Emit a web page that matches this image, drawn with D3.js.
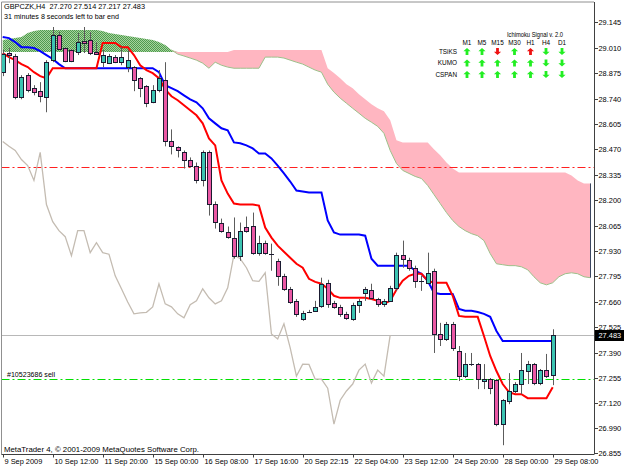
<!DOCTYPE html>
<html><head><meta charset="utf-8">
<script src="https://cdn.jsdelivr.net/npm/d3@7"></script>
<style>
body{margin:0;background:#fff}
svg{display:block}
text{font-family:"Liberation Sans",Arial,sans-serif;white-space:pre}
</style>
</head><body>
<svg id="c" width="625" height="469"></svg>
<script>
// ---------------- DATA ----------------
const symbolTitle = "GBPCZK,H4  27.270 27.514 27.217 27.483";
const timerText = "31 minutes 8 seconds left to bar end";
const copyright = "MetaTrader 4, \u00A9 2001-2009 MetaQuotes Software Corp.";
const orderLabel = "#10523686 sell";

const timeLabels = ["9 Sep 2009","10 Sep 12:00","11 Sep 20:00","15 Sep 00:00","16 Sep 08:00","17 Sep 16:00","20 Sep 22:15","22 Sep 04:00","23 Sep 12:00","24 Sep 20:00","28 Sep 00:00","29 Sep 08:00"];
const priceLabels = ["29.145","29.010","28.875","28.740","28.605","28.470","28.335","28.200","28.065","27.930","27.795","27.660","27.525","27.390","27.255","27.120","26.990","26.855"];

const open = [
 28.880,28.982,28.966,28.747,28.864,28.795,28.779,28.747,28.944,29.077,
 29.008,28.998,28.987,29.045,29.051,28.987,28.933,28.928,28.960,28.933,
 28.907,28.907,28.848,28.806,28.720,28.784,28.838,28.512,28.480,28.454,
 28.416,28.379,28.305,28.454,28.182,28.076,28.033,28.001,27.905,28.060,
 28.065,27.921,27.974,27.916,27.878,27.798,27.729,27.665,27.569,27.607,
 27.612,27.639,27.761,27.655,27.633,27.596,27.569,27.644,27.708,27.724,
 27.675,27.649,27.665,27.734,27.910,27.884,27.841,27.772,27.761,27.825,
 27.489,27.462,27.543,27.399,27.265,27.329,27.329,27.239,27.249,27.244,
 27.010,27.132,27.186,27.223,27.292,27.329,27.228,27.297,27.270];
const high = [
 28.998,29.008,28.977,28.864,28.875,28.811,28.827,28.944,29.120,29.093,
 29.013,29.003,29.088,29.120,29.093,29.040,28.998,28.977,28.971,29.013,
 28.998,28.912,28.854,28.811,28.811,28.891,28.933,28.576,28.486,28.464,
 28.427,28.400,28.464,28.464,28.193,28.102,28.060,28.108,28.081,28.113,
 28.134,28.011,27.985,27.969,27.889,27.809,27.739,27.675,27.612,27.617,
 27.665,27.788,27.777,27.665,27.644,27.607,27.655,27.675,27.739,27.756,
 27.681,27.675,27.745,27.921,27.985,27.894,27.852,27.798,27.921,27.836,
 27.548,27.553,27.553,27.425,27.388,27.388,27.335,27.329,27.255,27.249,
 27.143,27.281,27.233,27.388,27.346,27.335,27.303,27.383,27.514];
const low = [
 28.859,28.928,28.736,28.736,28.773,28.757,28.720,28.667,28.933,28.998,
 28.933,28.933,28.971,28.982,28.971,28.971,28.907,28.923,28.928,28.917,
 28.880,28.779,28.747,28.694,28.715,28.773,28.486,28.443,28.427,28.368,
 28.374,28.289,28.273,28.118,28.049,28.027,27.995,27.889,27.878,28.027,
 27.910,27.905,27.910,27.825,27.745,27.718,27.649,27.580,27.559,27.601,
 27.607,27.628,27.628,27.623,27.580,27.564,27.559,27.601,27.665,27.671,
 27.633,27.633,27.659,27.718,27.841,27.825,27.734,27.718,27.756,27.388,
 27.425,27.452,27.399,27.239,27.255,27.319,27.196,27.196,27.169,26.999,
 26.898,27.116,27.175,27.169,27.223,27.217,27.217,27.255,27.217];
const close = [
 28.977,28.971,28.747,28.854,28.784,28.773,28.752,28.933,29.077,29.003,
 28.939,28.939,29.040,29.035,28.982,28.979,28.971,28.966,28.933,28.960,
 28.944,28.838,28.795,28.715,28.784,28.848,28.512,28.486,28.464,28.416,
 28.384,28.305,28.454,28.177,28.086,28.038,28.006,27.905,28.038,28.038,
 27.921,27.974,27.921,27.913,27.798,27.729,27.659,27.596,27.601,27.604,
 27.633,27.756,27.649,27.633,27.596,27.575,27.644,27.665,27.729,27.681,
 27.649,27.665,27.734,27.910,27.889,27.841,27.772,27.769,27.814,27.489,
 27.462,27.543,27.415,27.265,27.329,27.327,27.249,27.249,27.201,27.010,
 27.137,27.186,27.223,27.297,27.329,27.228,27.297,27.265,27.483];

const tenkan = [
 28.982,28.960,28.944,28.923,28.907,28.880,28.859,28.848,28.901,28.901,
 28.901,28.901,28.901,28.901,28.901,28.901,29.035,29.035,29.035,29.013,
 29.013,28.971,28.917,28.891,28.875,28.848,28.789,28.752,28.731,28.704,
 28.678,28.651,28.608,28.528,28.491,28.305,28.235,28.182,28.177,28.177,
 28.177,28.171,28.054,28.001,27.958,27.926,27.894,27.862,27.841,27.782,
 27.766,27.756,27.729,27.692,27.681,27.681,27.681,27.681,27.681,27.675,
 27.665,27.649,27.665,27.724,27.772,27.798,27.809,27.809,27.772,27.761,
 27.761,27.761,27.692,27.585,27.580,27.580,27.580,27.478,27.372,27.292,
 27.223,27.180,27.169,27.169,27.148,27.148,27.148,27.148,27.206];
const kijun = [
 29.067,29.061,29.040,29.013,29.013,29.008,28.992,28.971,28.950,28.923,
 28.901,28.901,28.901,28.901,28.901,28.901,28.901,28.901,28.901,28.901,
 28.901,28.901,28.901,28.901,28.901,28.880,28.811,28.795,28.779,28.757,
 28.736,28.720,28.688,28.635,28.608,28.582,28.571,28.507,28.502,28.491,
 28.475,28.448,28.448,28.422,28.384,28.342,28.299,28.251,28.246,28.241,
 28.241,28.241,28.092,28.028,28.017,28.017,28.017,28.017,28.011,27.889,
 27.852,27.852,27.852,27.852,27.852,27.852,27.825,27.809,27.772,27.708,
 27.702,27.702,27.702,27.622,27.612,27.612,27.606,27.596,27.580,27.505,
 27.452,27.452,27.452,27.452,27.452,27.452,27.452,27.452,27.452];
const spanA = [
 29.051,29.056,29.061,29.067,29.088,29.099,29.104,29.104,29.104,29.104,
 29.104,29.104,29.104,29.104,29.104,29.104,29.099,29.088,29.083,29.077,
 29.072,29.067,29.061,29.056,29.051,29.040,29.024,28.998,28.976,28.966,
 28.955,28.944,28.928,28.901,28.933,28.917,28.907,28.901,28.901,28.901,
 28.901,28.901,28.960,28.960,28.960,28.955,28.944,28.933,28.923,28.907,
 28.891,28.880,28.816,28.774,28.742,28.715,28.688,28.662,28.635,28.614,
 28.592,28.555,28.464,28.395,28.358,28.342,28.326,28.315,28.278,28.230,
 28.182,28.134,28.092,28.060,28.038,28.022,28.011,27.985,27.916,27.862,
 27.857,27.852,27.852,27.846,27.830,27.793,27.761,27.750,27.761,27.793,
 27.809,27.814,27.809,27.793,27.788];
const spanB = [
 28.987,28.987,28.987,28.987,28.987,28.987,28.987,28.987,28.987,28.987,
 28.987,28.987,28.987,28.987,28.987,28.987,28.987,28.987,28.987,28.987,
 28.987,28.987,28.987,28.987,28.987,28.987,28.987,28.987,28.987,28.987,
 28.987,28.987,28.987,28.987,28.987,28.987,28.987,28.998,28.998,28.998,
 28.998,28.998,28.998,28.998,28.998,28.998,28.998,28.998,28.998,28.998,
 28.998,28.998,28.901,28.875,28.848,28.816,28.795,28.763,28.736,28.710,
 28.688,28.672,28.624,28.518,28.507,28.507,28.507,28.507,28.507,28.470,
 28.438,28.400,28.368,28.347,28.347,28.347,28.347,28.347,28.347,28.347,
 28.347,28.347,28.347,28.347,28.347,28.347,28.347,28.347,28.347,28.347,
 28.347,28.331,28.305,28.289,28.289];
const chikouShift = 26;

const stopLevel = 28.374;    // red dash-dot line
const orderLevel = 27.250;   // green dash-dot line (order)
const bidPrice = 27.483;

const tfs = ["M1","M5","M15","M30","H1","H4","D1"];
const signalRows = ["TSiKS","KUMO","CSPAN"];
const signalDir = [[1,1,-1,1,1,-1,-1],[1,1,1,1,1,-1,-1],[1,1,1,1,1,-1,-1]];
const signalClr = [["g","g","r","g","r","g","g"],["g","g","g","g","g","g","g"],["g","g","g","g","g","g","g"]];
const panelTitle = "Ichimoku Signal v. 2.0";

// ---------------- LAYOUT ----------------
const W = 625, H = 469;
const L = 1.5, R = 594, T = 2, B = 454.5;
const svg = d3.select("#c");
svg.append("rect").attr("width",W).attr("height",H).attr("fill","#fff");

const x = d3.scaleLinear().domain([0, 88]).range([2.7, 552.7]);
const y = d3.scaleLinear().domain([29.145, 26.855]).range([22.3, 453.3]);

const defs = svg.append("defs");
defs.append("clipPath").attr("id","plot").append("rect")
  .attr("x",L).attr("y",T).attr("width",R-L).attr("height",B-T);
const pat = defs.append("pattern").attr("id","grn").attr("width",2).attr("height",2)
  .attr("patternUnits","userSpaceOnUse");
pat.append("rect").attr("width",2).attr("height",2).attr("fill","#a6d49c");
pat.append("rect").attr("width",1).attr("height",1).attr("fill","#4f9a4f");
pat.append("rect").attr("x",1).attr("y",1).attr("width",1).attr("height",1).attr("fill","#4f9a4f");

const g = svg.append("g").attr("clip-path","url(#plot)");

// cloud
const nC = Math.min(spanA.length, spanB.length);
const idxC = d3.range(nC);
const hi = i => Math.max(spanA[i], spanB[i]);
const areaGreen = d3.area().x(i=>x(i)).y0(i=>y(spanB[i])).y1(i=>y(hi(i)));
const areaPink  = d3.area().x(i=>x(i)).y0(i=>y(spanA[i])).y1(i=>y(hi(i)));
g.append("path").attr("d",areaGreen(idxC)).attr("fill","url(#grn)");
g.append("path").attr("d",areaPink(idxC)).attr("fill","#ffb6c1");
g.append("path").attr("d",d3.line().x(i=>x(i)).y(i=>y(spanA[i]))(idxC.filter(i=>spanA[i]<spanB[i]||i>=27)))
  .attr("fill","none").attr("stroke","#9cc08a").attr("stroke-width",1);
const lastC = nC-1;
g.append("line").attr("x1",Math.round(x(lastC))+0.5).attr("x2",Math.round(x(lastC))+0.5)
  .attr("y1",y(spanB[lastC])).attr("y2",y(spanA[lastC])).attr("stroke","#3a4660");

// horizontal levels
const hy = v => Math.round(y(v))+0.5;
g.append("line").attr("x1",L).attr("x2",R).attr("y1",hy(stopLevel)).attr("y2",hy(stopLevel))
  .attr("stroke","#ff2020").attr("stroke-dasharray","8,3,2,3");
g.append("line").attr("x1",L).attr("x2",R).attr("y1",hy(orderLevel)).attr("y2",hy(orderLevel))
  .attr("stroke","#00e000").attr("stroke-dasharray","8,3,2,3");
g.append("line").attr("x1",L).attr("x2",R).attr("y1",hy(bidPrice)).attr("y2",hy(bidPrice))
  .attr("stroke","#b8b8b8");

// chikou
const idxK = d3.range(chikouShift, close.length);
g.append("path").attr("d",d3.line().x(i=>x(i-chikouShift)).y(i=>y(close[i]))(idxK))
  .attr("fill","none").attr("stroke","#c4bcb2").attr("stroke-width",1.3);

// tenkan / kijun
const idxB = d3.range(close.length);
g.append("path").attr("d",d3.line().x(i=>x(i)).y(i=>y(kijun[i]))(idxB))
  .attr("fill","none").attr("stroke","#0000ff").attr("stroke-width",2);
g.append("path").attr("d",d3.line().x(i=>x(i)).y(i=>y(tenkan[i]))(idxB))
  .attr("fill","none").attr("stroke","#ff0000").attr("stroke-width",2);

// candles
const cg = g.append("g");
idxB.forEach(i=>{
  const cx = Math.round(x(i)) + 0.5;
  cg.append("line").attr("x1",cx).attr("x2",cx).attr("y1",y(high[i])).attr("y2",y(low[i]))
    .attr("stroke","#5c5c5c").attr("stroke-width",1);
  const top = Math.round(y(Math.max(open[i],close[i])));
  const bot = Math.round(y(Math.min(open[i],close[i])));
  const bull = close[i] > open[i];
  cg.append("rect").attr("x",cx-2).attr("y",top+0.5).attr("width",4).attr("height",Math.max(0.01,bot-top))
    .attr("fill", bull ? "#3cc4b2" : "#ea58a4").attr("stroke","#1a1a30").attr("stroke-width",1);
});

// frame
svg.append("line").attr("x1",L).attr("x2",R).attr("y1",T).attr("y2",T).attr("stroke","#909090");
svg.append("line").attr("x1",L).attr("x2",L).attr("y1",T).attr("y2",B).attr("stroke","#909090");
svg.append("line").attr("x1",R+0.5).attr("x2",R+0.5).attr("y1",T).attr("y2",B).attr("stroke","#404040");
svg.append("line").attr("x1",L).attr("x2",R).attr("y1",B).attr("y2",B).attr("stroke","#404040");

// price axis
const fs = 7.4;
priceLabels.forEach(s=>{
  const v = +s, py = Math.round(y(v))+0.5;
  svg.append("line").attr("x1",R+0.5).attr("x2",R+4).attr("y1",py).attr("y2",py).attr("stroke","#404040");
  svg.append("text").attr("x",598.5).attr("y",py+2.7).attr("font-size",fs).attr("fill","#000").text(s);
});
// bid box
const by = Math.round(y(bidPrice));
svg.append("rect").attr("x",R+1).attr("y",by-5).attr("width",W-R-2).attr("height",11).attr("fill","#000");
svg.append("text").attr("x",598.5).attr("y",by+3).attr("font-size",fs).attr("fill","#fff").text(bidPrice.toFixed(3));

// time axis
timeLabels.forEach((s,k)=>{
  const tx = Math.round(x(k*8))+0.5;
  svg.append("line").attr("x1",tx).attr("x2",tx).attr("y1",B).attr("y2",B+3).attr("stroke","#404040");
  svg.append("text").attr("x",tx+1).attr("y",463.5).attr("font-size",fs).attr("fill","#000").text(s);
});

// texts
svg.append("text").attr("x",4).attr("y",9).attr("font-size",8).attr("fill","#000")
  .attr("textLength",141).attr("lengthAdjust","spacingAndGlyphs").text(symbolTitle);
svg.append("text").attr("x",4).attr("y",19).attr("font-size",8).attr("fill","#000")
  .attr("textLength",115).attr("lengthAdjust","spacingAndGlyphs").text(timerText);
svg.append("text").attr("x",4).attr("y",452).attr("font-size",7.6).attr("fill","#000")
  .attr("textLength",195).attr("lengthAdjust","spacingAndGlyphs").text(copyright);
svg.append("text").attr("x",7).attr("y",376.5).attr("font-size",7).attr("fill","#000")
  .attr("textLength",48).attr("lengthAdjust","spacingAndGlyphs").text(orderLabel);

// signal panel
const colX = [467,482,497.5,514.5,530.5,546,562];
const rowY = [51.5,63,74.5];
svg.append("text").attr("x",507).attr("y",36.5).attr("font-size",6.6).attr("fill","#000")
  .attr("textLength",56).attr("lengthAdjust","spacingAndGlyphs").text(panelTitle);
tfs.forEach((t,j)=>svg.append("text").attr("x",colX[j]).attr("y",44.5).attr("text-anchor","middle").attr("font-size",6.4).attr("fill","#000").text(t));
signalRows.forEach((r,k)=>{
  svg.append("text").attr("x",457).attr("y",rowY[k]+2.2).attr("text-anchor","end").attr("font-size",6.4).attr("fill","#000").text(r);
  tfs.forEach((t,j)=>{
    const s = signalDir[k][j];
    const d = `M0,${-3.6*s} L3.6,${-0.2*s} L1.4,${-0.2*s} L1.4,${3.6*s} L-1.4,${3.6*s} L-1.4,${-0.2*s} L-3.6,${-0.2*s} Z`;
    svg.append("path").attr("d",d).attr("transform",`translate(${colX[j]},${rowY[k]})`)
      .attr("fill", signalClr[k][j]==="g" ? "#22ee22" : "#ee1111");
  });
});
</script>
</body></html>
